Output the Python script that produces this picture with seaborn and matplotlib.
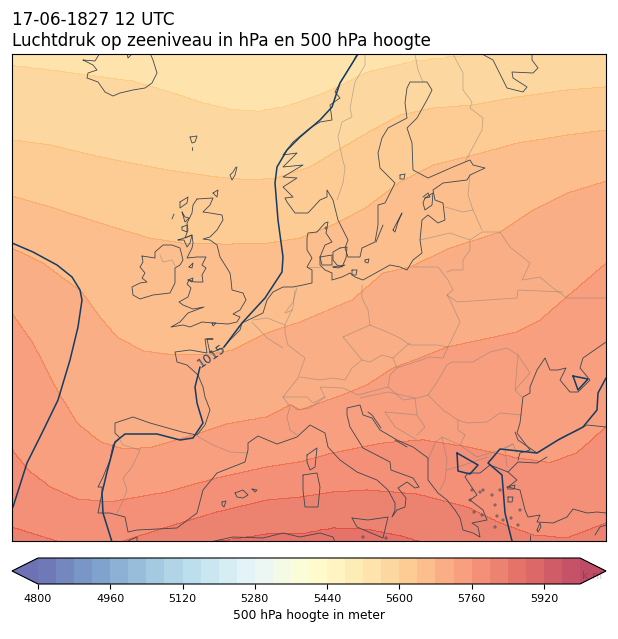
import numpy as np
import pandas as pd
import matplotlib
matplotlib.use("Agg")
import matplotlib.pyplot as plt
import seaborn as sns

# map units are kept the same as the picture, y runs downwards
levels = np.arange(4800, 6001, 40)
cbar_ticks = np.arange(4800, 5921, 160)

iso_levels = [5560, 5600, 5640, 5680, 5720, 5760, 5800, 5840]
iso_5560 = [(12,66),(67,73),(133,82),(167,92),(200,103),(233,111),(260,112),(287,107),(310,99),(333,90),(367,73),(413,62),(480,54),(520,48),(606,35)]
iso_5600 = [(12,140),(50,145),(100,157),(167,170),(217,177),(250,180),(277,178),(310,167),(333,153),(367,133),(400,115),(433,108),(473,105),(517,97),(567,90),(606,87)]
iso_5640 = [(12,196),(50,207),(100,223),(150,238),(183,243),(227,244),(267,243),(300,238),(333,225),(367,207),(400,182),(433,165),(473,155),(517,143),(567,135),(606,130)]
iso_5680 = [(12,248),(43,263),(70,283),(82,292),(100,317),(117,337),(143,351),(173,355),(207,355),(233,350),(267,333),(300,322),(333,308),(352,300),(383,273),(410,267),(450,248),(500,232),(533,210),(567,193),(606,181)]
iso_5720 = [(12,313),(33,343),(57,390),(77,423),(100,442),(123,449),(150,448),(200,433),(227,424),(267,417),(290,405),(300,410),(343,395),(367,385),(393,368),(420,358),(447,347),(480,340),(517,332),(540,320),(563,300),(606,263)]
iso_5760 = [(12,450),(28,470),(50,487),(77,499),(110,502),(167,492),(217,478),(267,467),(300,462),(333,453),(383,443),(423,440),(467,447),(517,458),(550,463),(577,453),(606,427)]
iso_5800 = [(12,527),(60,542),(90,549),(120,542),(167,527),(217,512),(267,500),(300,497),(333,492),(367,490),(417,494),(467,507),(500,523),(533,535),(567,538),(606,523)]
iso_5840 = [(12,620),(150,570),(210,542),(267,533),(300,533),(333,527),(367,528),(400,535),(423,542),(500,570),(606,610)]

# 1015 hPa isobar
isobar_west = [(12,243),(33,252),(57,265),(72,277),(80,290),(82,300),(78,327),(70,360),(58,400),(42,433),(27,463),(13,507)]
isobar_north = [(358,54),(340,83),(332,107),(320,120),(300,137),(287,150),(277,167),(275,183),(278,220),(283,257),(282,272),(265,298),(242,323),(224,347)]
isobar_south = [(200,367),(195,387),(197,403),(203,423),(193,438),(180,440),(157,434),(125,434),(115,442),(107,472),(102,493),(103,513),(112,542)]
isobar_east = [(606,378),(598,393),(597,410),(583,427),(558,440),(537,453),(500,449),(488,463),(502,475),(505,513),(512,541)]
isobar_balkan = [(457,453),(478,465),(470,474),(458,471),(457,453)]
isobar_crimea = [(573,376),(588,379),(578,390),(573,376)]

coasts = [
    # iceland, faroes, shetland
    [(83,60),(95,61),(100,53),(127,53),(128,58),(133,53),(150,53),(153,60),(157,73),(152,83),(145,88),(133,90),(120,93),(113,96),(105,92),(98,82),(87,78),(88,73),(97,70),(93,65),(83,60)],
    [(190,137),(197,136),(195,142),(192,143),(190,137)],
    [(192,147),(192,150)],
    [(236,167),(233,172),(230,175),(232,180),(235,175),(237,167)],
    # great britain and islands
    [(197,199),(213,198),(210,205),(203,212),(210,213),(222,215),(223,220),(217,230),(210,237),(203,239),(210,240),(217,245),(220,257),(225,265),(230,273),(231,280),(232,290),(243,293),(246,300),(240,310),(233,314),(240,317),(237,322),(228,324),(213,323),(202,322),(190,327),(183,325),(171,327),(180,322),(188,313),(204,307),(193,309),(183,305),(179,302),(188,297),(191,288),(187,284),(189,280),(195,282),(203,282),(202,275),(206,268),(202,265),(206,257),(197,257),(187,258),(192,248),(193,243),(192,235),(185,238),(188,230),(187,223),(192,213),(193,205),(197,199)],
    [(180,202),(188,197),(187,203),(180,208),(180,202)],
    [(174,214),(172,219)],
    [(182,212),(185,217),(189,218),(185,222),(182,212)],
    [(182,227),(187,225),(187,232),(182,230),(182,227)],
    [(178,240),(187,237),(192,235),(190,243),(187,247),(184,240),(178,240)],
    [(213,193),(218,190),(217,197),(213,193)],
    [(189,267),(193,263),(192,268),(189,267)],
    [(188,280),(193,278),(192,282),(188,280)],
    [(212,323),(216,323),(213,326),(212,323)],
    # ireland
    [(142,256),(155,258),(155,252),(163,245),(172,245),(180,248),(183,260),(180,265),(175,268),(175,283),(170,293),(153,295),(140,299),(133,295),(132,287),(140,283),(147,282),(142,278),(145,273),(140,267),(143,262),(142,256)],
    # norway round to sweden and up the bothnia, down to the baltic states and germany
    [(357,54),(353,62),(340,83),(335,92),(340,98),(330,105),(332,120),(320,122),(310,128),(293,142),(283,155),(297,153),(283,167),(303,165),(283,177),(297,178),(283,187),(293,197),(285,198),(287,202),(295,213),(308,213),(320,200),(327,197),(327,190),(333,200),(338,220),(348,240),(345,248),(348,257),(360,257),(362,248),(375,242),(378,225),(378,205),(385,203),(390,193),(395,183),(380,168),(378,153),(382,138),(388,128),(407,118),(405,103),(407,88),(410,82),(427,82),(432,90),(428,98),(417,118),(407,128),(412,143),(413,170),(428,178),(453,167),(470,160),(473,165),(485,168),(470,175),(467,180),(443,183),(433,190),(435,200),(443,203),(445,220),(438,223),(428,215),(422,220),(420,240),(422,253),(413,260),(407,270),(400,267),(390,265),(363,280),(355,277),(350,273),(342,277),(332,280),(332,273),(325,270),(320,265),(320,257),(325,245),(332,242),(326,233),(328,222),(325,223),(317,232),(308,233),(307,238),(307,250),(312,258),(307,267),(312,270),(312,283),(303,285),(293,287),(283,287),(273,292),(267,300),(263,313),(242,323),(240,330),(230,340),(223,348),(210,353),(207,339),(213,339),(205,339),(207,353),(190,350),(175,352),(177,362),(187,365),(198,375),(203,387),(205,397),(210,410),(205,425),(197,435),(182,432),(150,423),(133,417),(115,423),(115,433),(120,438),(113,445),(110,460),(103,477),(98,487),(102,487),(102,493),(98,513),(110,513),(125,517),(128,532),(137,530),(177,528),(197,513),(203,490),(217,473),(245,462),(248,450),(248,443),(258,436),(277,444),(297,437),(310,425),(325,433),(328,447),(340,460),(357,472),(377,480),(388,490),(395,503),(395,510),(392,517),(397,510),(405,507),(406,498),(398,488),(407,482),(415,488),(419,487),(413,478),(391,470),(390,462),(363,448),(350,427),(347,415),(347,408),(360,405),(363,415),(372,418),(380,430),(397,440),(413,447),(428,458),(428,480),(438,493),(447,500),(455,510),(460,518),(463,530),(473,533),(480,537),(478,527),(472,523),(487,520),(483,510),(470,500),(477,495),(465,477),(468,473),(480,473),(490,465),(508,472),(518,462),(537,463),(547,457)],
    # black sea ring
    [(518,460),(520,453),(530,450),(517,433),(520,423),(523,397),(530,393),(530,387),(537,370),(545,358),(550,370),(558,370),(566,368),(560,380),(570,392),(578,392),(590,380),(580,368),(583,358),(606,342)],
    [(515,432),(518,440),(537,453),(563,437),(578,430),(587,425),(606,427)],
    # turkey
    [(508,472),(517,480),(508,487),(520,490),(525,510),(528,517),(540,515),(537,522),(553,523),(567,517),(573,509),(587,513),(597,512),(606,513)],
    [(595,535),(600,527),(606,525)],
    [(530,535),(530,541)],
    [(537,530),(540,523),(541,527),(538,532),(537,530)],
    # white sea
    [(482,54),(493,60),(502,78),(507,88),(523,92),(527,87),(513,78),(512,72),(533,73),(538,68),(532,60),(532,54)],
    # baltic and danish islands
    [(376,242),(383,225)],
    [(393,230),(402,213),(398,222),(395,232),(393,230)],
    [(340,248),(347,247),(346,258),(342,267),(337,265),(333,260),(333,252),(340,248)],
    [(320,257),(332,255),(332,265),(322,265),(320,257)],
    [(333,267),(345,265),(338,268),(333,267)],
    [(365,260),(369,259),(368,263),(365,262),(365,260)],
    [(352,270),(357,270),(356,275),(352,275),(352,270)],
    [(425,198),(433,193),(432,205),(425,210),(423,203),(425,198)],
    [(423,197),(428,193),(430,197),(425,198)],
    [(400,175),(405,174),(404,179),(400,179),(400,175)],
    # mediterranean islands
    [(303,475),(317,473),(320,487),(318,507),(305,507),(303,490),(303,475)],
    [(307,455),(317,448),(315,467),(310,470),(307,462),(307,455)],
    [(235,493),(243,490),(248,495),(243,498),(237,497),(235,493)],
    [(252,489),(257,490),(255,492),(252,489)],
    [(222,502),(226,501),(224,507),(222,505),(222,502)],
    [(352,518),(368,520),(388,517),(383,538),(357,527),(352,518)],
    [(368,412),(372,415),(381,428)],
    [(395,440),(407,447)],
    [(507,487),(515,485),(514,489),(508,489),(507,487)],
    [(508,497),(513,497),(512,502),(508,502),(508,497)],
    # africa
    [(210,542),(233,537),(263,538),(283,533),(300,537),(320,533),(333,537),(335,542)],
    [(128,541),(137,537),(137,542)],
]

islets_x = [480,483,492,495,497,503,511,520,518,495,472,470,474,482,500,386,363,326]
islets_y = [492,490,495,505,516,520,518,510,525,527,490,500,512,515,490,538,537,228]

borders = [
    [(160,255),(163,262),(172,260),(175,266)],
    [(365,54),(365,65),(355,82),(350,108),(352,117),(342,122),(338,137),(342,157),(345,168),(343,183),(337,200)],
    [(415,54),(418,70),(423,82)],
    [(453,54),(463,73),(463,90),(472,102),(470,108),(483,118),(482,130),(465,162)],
    [(470,175),(468,195),(473,210)],
    [(445,207),(463,212),(473,210),(482,230)],
    [(420,240),(450,233),(470,240),(482,232),(500,232),(510,247),(530,263),(522,280),(540,277),(553,288),(567,298),(606,298)],
    [(470,240),(470,250),(463,260),(463,270),(452,270),(447,272)],
    [(413,267),(438,267),(448,280),(453,290),(447,295),(450,300),(460,322),(448,347)],
    [(447,295),(457,302),(487,300),(517,298),(518,290),(563,292)],
    [(362,285),(362,298),(368,310),(370,325)],
    [(370,325),(387,332),(400,338),(410,345),(437,345),(448,347)],
    [(343,337),(370,325)],
    [(343,337),(362,360),(370,362),(382,355),(393,358),(405,347),(410,343)],
    [(393,358),(397,368),(430,357),(443,358),(448,347)],
    [(295,290),(293,307),(285,325),(285,333),(288,345),(305,358),(298,378),(283,397)],
    [(300,377),(320,380),(333,378),(345,380),(352,368),(362,360)],
    [(283,397),(300,397),(307,397),(313,403),(325,397),(320,387),(343,388),(358,395),(388,387),(390,375),(397,368)],
    [(388,387),(403,400),(417,398),(428,395),(437,382),(447,365),(452,362),(473,362),(490,352),(507,348),(518,355),(530,373),(515,390),(522,397)],
    [(518,355),(515,390)],
    [(428,395),(443,410),(458,420),(467,423),(487,422),(500,413),(522,415)],
    [(458,420),(458,430),(465,435),(460,445),(477,457),(500,450),(513,444),(517,453)],
    [(428,460),(435,443),(442,437),(447,460),(445,480),(440,490)],
    [(447,470),(470,463),(488,457)],
    [(442,437),(460,445)],
    [(385,412),(417,415),(425,427),(417,435)],
    [(385,412),(395,427),(417,440)],
    [(360,398),(388,392),(415,398),(417,415)],
    [(283,397),(290,407),(287,417),(290,430),(297,435)],
    [(292,405),(297,410),(310,408),(325,397)],
    [(120,440),(123,445),(140,450),(132,467),(123,478),(127,490),(122,503),(117,513)],
    [(197,436),(213,445),(230,452),(248,453)],
    [(252,322),(267,338),(283,348)],
    [(253,320),(267,318),(285,325)],
    [(307,267),(320,267)],
    [(297,288),(293,302),(285,313),(293,310)],
    [(513,444),(505,448),(507,467)],
]


def to_frame(lines):
    rows = []
    for i, line in enumerate(lines):
        for x, y in line:
            rows.append((i, x, y))
    return pd.DataFrame(rows, columns=["seg", "x", "y"])


def height_field(xs, ys):
    lines = [iso_5560, iso_5600, iso_5640, iso_5680, iso_5720, iso_5760, iso_5800, iso_5840]
    tab = np.array([np.interp(xs, *zip(*line)) for line in lines])
    f = np.zeros((len(ys), len(xs)))
    for j in range(len(xs)):
        p = np.r_[-1000, tab[:, j], 3000]
        h = np.r_[iso_levels[0] - 20, iso_levels, iso_levels[-1] + 20]
        f[:, j] = np.interp(ys, p, h)
    return f


sns.set_style("ticks", rc={"axes.edgecolor": "black", "xtick.color": "black",
                           "text.color": "black", "axes.labelcolor": "black"})
plt.rcParams["font.family"] = ["DejaVu Sans"]

W, H = 618, 639
fig = plt.figure(figsize=(W / 100, H / 100), dpi=100)
ax = fig.add_axes([12 / W, 1 - 541 / H, 594 / W, 487 / H])
cax = fig.add_axes([12 / W, 1 - 584 / H, 594 / W, 26 / H])

cmap = sns.color_palette("RdYlBu_r", as_cmap=True)
gx = np.linspace(12, 606, 298)
gy = np.linspace(54, 541, 245)
cf = ax.contourf(gx, gy, height_field(gx, gy), levels=levels, cmap=cmap, extend="both", alpha=0.7)

sns.lineplot(data=to_frame(borders), x="x", y="y", units="seg", estimator=None, sort=False,
             color="#7a7a7a", lw=0.55, alpha=0.5, ax=ax, legend=False)
sns.lineplot(data=to_frame(coasts), x="x", y="y", units="seg", estimator=None, sort=False,
             color="#3c4650", lw=0.6, ax=ax, legend=False)
sns.scatterplot(x=islets_x, y=islets_y, s=2.5, facecolor="none", edgecolor="#3c4650", linewidth=0.5, ax=ax, legend=False)
sns.lineplot(data=to_frame([isobar_west, isobar_north, isobar_south, isobar_east, isobar_balkan, isobar_crimea]),
             x="x", y="y", units="seg", estimator=None, sort=False,
             color="#143c64", lw=1.1, ax=ax, legend=False)
ax.text(212, 356, "1015", fontsize=9, color="#2d4660", rotation=35, ha="center", va="center")

ax.set_xlim(12, 606)
ax.set_ylim(541, 54)
ax.set_xticks([])
ax.set_yticks([])
ax.set_xlabel("")
ax.set_ylabel("")
ax.set_title("17-06-1827 12 UTC\nLuchtdruk op zeeniveau in hPa en 500 hPa hoogte", loc="left",
             fontsize=12.08, pad=5.5, linespacing=1.26)

cb = fig.colorbar(cf, cax=cax, orientation="horizontal", ticks=cbar_ticks, extendfrac=26 / 542)
cb.ax.tick_params(labelsize=8, length=3.5, width=0.8)
cb.set_label("500 hPa hoogte in meter", fontsize=8.8)
fig.text(582 / W, 1 - 576 / H, "k.nl", fontsize=8, color="black", alpha=0.2, ha="left", va="center")

fig.savefig("out.png", dpi=100)
